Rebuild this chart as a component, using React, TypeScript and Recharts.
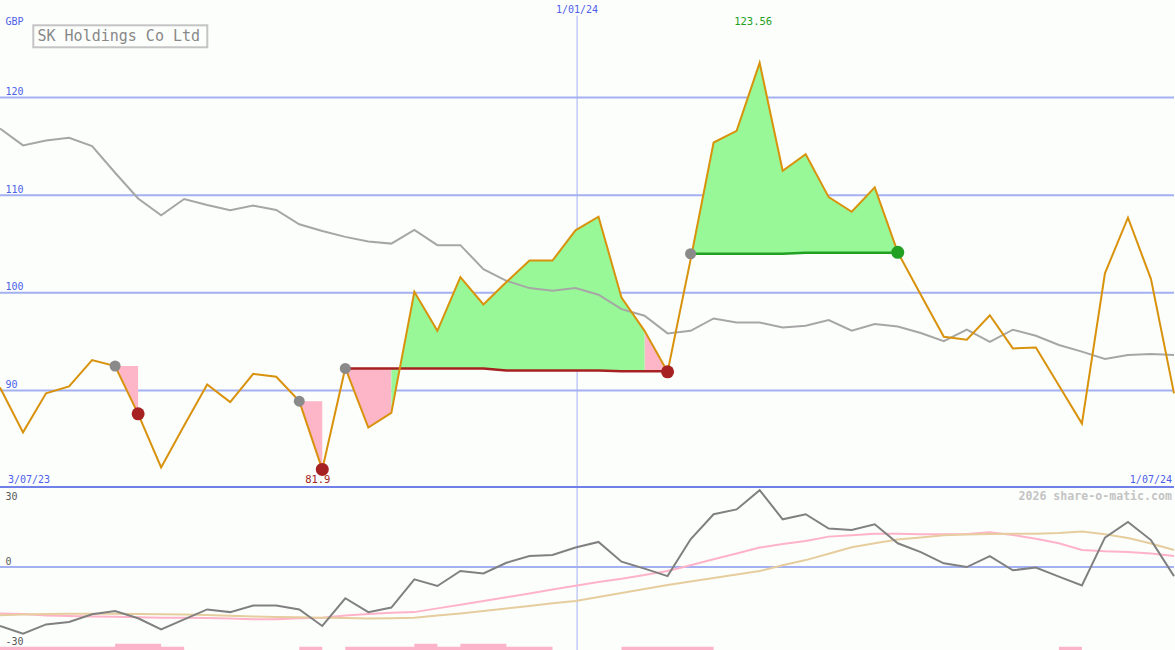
import React from 'react';
import { ComposedChart, Line, Area, XAxis, YAxis, ReferenceLine, ReferenceDot, CartesianGrid } from 'recharts';

const FONT = '"DejaVu Sans Mono", "Liberation Mono", monospace';
const BG = '#fcfefc';
const GRID = '#a3b0f2';
const AXIS = '#6f80e8';
const BLUE_TEXT = '#4d60ea';
const ORANGE = '#d8920c';
const PINK_FILL = '#fdb5c8';
const GREEN_FILL = '#98f898';
const LOSS = '#a62222';
const GAIN = '#22a022';

// ---- data (weekly) ----
const price = [
  90.3, 85.7, 89.7, 90.4, 93.1, 92.5, 87.6, 82.1, 86.4, 90.6,
  88.8, 91.7, 91.4, 88.9, 81.9, 92.3, 86.2, 87.7, 100.1, 96.1,
  101.6, 98.8, 101.1, 103.3, 103.3, 106.4, 107.8, 99.5, 96.1, 91.9,
  103.4, 115.4, 116.6, 123.56, 112.5, 114.2, 109.8, 108.3, 110.8, 104.15,
  99.8, 95.5, 95.2, 97.7, 94.3, 94.4, 90.5, 86.6, 102.0, 107.7,
  101.4, 89.7,
];
const avg = [
  116.84, 115.1, 115.61, 115.88, 115.03, 112.3, 109.66, 107.94, 109.61, 109.0,
  108.46, 108.93, 108.49, 107.02, 106.34, 105.73, 105.25, 105.04, 106.44, 104.88,
  104.88, 102.42, 101.23, 100.48, 100.2, 100.48, 99.8, 98.33, 97.65, 95.84,
  96.11, 97.37, 96.96, 96.96, 96.45, 96.63, 97.21, 96.11, 96.8, 96.55,
  95.88, 95.04, 96.22, 94.96, 96.22, 95.6, 94.65, 93.97, 93.22, 93.63,
  93.73, 93.63,
];
const stopLevel: (number | null)[] = [
  null, null, null, null, null, 92.5, 92.5, null, null, null,
  null, null, null, 88.9, 88.9, 92.25, 92.25, 92.25, 92.25, 92.25,
  92.25, 92.25, 92.05, 92.05, 92.05, 92.05, 92.05, 91.95, 91.95, 91.95,
  104.0, 104.0, 104.0, 104.0, 104.0, 104.1, 104.1, 104.1, 104.1, 104.1,
  null, null, null, null, null, null, null, null, null, null,
  null, null,
];
const tradeStart = [5, 13, 15, 30];
const tradeEnd = [6, 14, 29, 39];

const oscillator = [
  -22.1, -25.0, -21.5, -20.6, -17.7, -16.5, -19.2, -23.4, -19.6, -15.9,
  -16.9, -14.4, -14.4, -15.9, -22.1, -11.7, -16.9, -15.2, -4.6, -7.1,
  -1.5, -2.4, 1.6, 4.1, 4.5, 7.3, 9.4, 2.0, -0.6, -3.4,
  10.4, 19.8, 21.6, 28.8, 17.9, 19.8, 14.4, 13.9, 16.0, 8.9,
  5.6, 1.4, 0.0, 4.1, -1.2, -0.2, -3.6, -6.9, 11.0, 16.9,
  10.1, -3.4,
];
const oscFast = [
  -17.4, -17.6, -18.2, -18.4, -18.5, -18.6, -18.8, -19.0, -19.0, -19.1,
  -19.3, -19.6, -19.6, -19.2, -19.0, -18.2, -17.6, -17.1, -16.9, -15.5,
  -14.1, -12.7, -11.3, -9.9, -8.4, -7.0, -5.6, -4.4, -3.0, -1.5,
  0.7, 2.9, 5.1, 7.3, 8.6, 9.8, 11.4, 11.9, 12.5, 12.5,
  12.3, 12.3, 12.4, 13.0, 12.0, 10.6, 8.9, 6.4, 5.9, 5.6,
  5.1, 4.1,
];
const oscSlow = [
  -18.1, -17.8, -17.6, -17.5, -17.5, -17.5, -17.6, -17.7, -17.8, -18.0,
  -18.3, -18.5, -18.7, -18.8, -19.0, -19.1, -19.3, -19.2, -19.0, -18.2,
  -17.4, -16.5, -15.5, -14.6, -13.6, -12.7, -11.2, -9.7, -8.2, -6.7,
  -5.4, -4.1, -2.8, -1.5, 0.7, 2.6, 5.0, 7.4, 8.9, 10.3,
  11.1, 11.9, 12.2, 12.4, 12.5, 12.5, 12.8, 13.3, 12.3, 10.9,
  8.8, 6.4,
];
const volume = [
  1.2, 1.2, 1.2, 1.2, 1.2, 2.3, 2.3, 1.2, 0, 0,
  0, 0, 0, 1.2, 0, 1.2, 1.2, 1.2, 2.3, 1.2,
  2.3, 2.3, 1.2, 1.2, 0, 0, 0, 1.2, 1.2, 1.2,
  1.2, 0, 0, 0, 0, 0, 0, 0, 0, 0,
  0, 0, 0, 0, 0, 0, 1.2, 0, 0, 0,
  0, 0,
];

const mainTicks = [90, 100, 110, 120];
const mainDomain: [number, number] = [80, 130];
const lowerDomain: [number, number] = [-31.1, 30];
const markerLabel = '1/01/24';
const markerIndex = 25.07;
const startLabel = '3/07/23';
const endLabel = '1/07/24';
const title = 'SK Holdings Co Ltd';
const currency = 'GBP';
const credit = '2026 share-o-matic.com';

// ---- derived rows ----
const N = price.length;
const fillKeys = ['p0', 'p1', 'g0', 'g1'];
const mainRows: Record<string, any>[] = price.map((p, i) => {
  const r: Record<string, any> = { i, price: p, avg: avg[i] };
  fillKeys.forEach((k) => (r[k] = null));
  tradeStart.forEach((_, k) => (r[`lvl${k}`] = null));
  return r;
});
const trades = tradeStart.map((s, k) => {
  const e = tradeEnd[k];
  const win = price[e] >= (stopLevel[s] as number);
  return { s, e, win, k };
});
trades.forEach(({ s, e, k }) => {
  const segGreen = (j: number) => price[j] >= (stopLevel[j] as number);
  for (let j = s; j <= e; j++) {
    const lvl = stopLevel[j] as number;
    const range = [lvl, price[j]];
    const prevSeg = j > s ? segGreen(j) : null;
    const nextSeg = j < e ? segGreen(j + 1) : null;
    if (prevSeg === true || nextSeg === true) mainRows[j][`g${k % 2}`] = range;
    if (prevSeg === false || nextSeg === false) mainRows[j][`p${k % 2}`] = range;
    if (e - s > 1) mainRows[j][`lvl${k}`] = lvl;
  }
});
const lowerRows = oscillator.map((v, i) => ({
  i,
  osc: v,
  fast: oscFast[i],
  slow: oscSlow[i],
  vol: lowerDomain[0] + volume[i],
}));
const maxIdx = price.indexOf(Math.max(...price));
const minIdx = price.indexOf(Math.min(...price));

const lineLabel = (text: string, fill: string, dy: number) => (props: any) => {
  const vb = props.viewBox || {};
  return (
    <text x={(vb.x ?? 0) + 5.5} y={(vb.y ?? 0) + dy} fill={fill} fontSize={10} fontFamily={FONT}>
      {text}
    </text>
  );
};
const dotLabel = (text: string, fill: string, dx: number, dy: number) => (props: any) => {
  const vb = props.viewBox || {};
  const cx = (vb.x ?? 0) + (vb.width ?? 0) / 2;
  const cy = (vb.y ?? 0) + (vb.height ?? 0) / 2;
  return (
    <text x={cx + dx} y={cy + dy} fill={fill} fontSize={10.5} fontFamily={FONT} textAnchor="middle">
      {text}
    </text>
  );
};

export default function App() {
  return (
    <div style={{ position: 'absolute', left: 0, top: 0, width: 1175, height: 650, background: BG, overflow: 'hidden' }}>
      {/* backdrop: grid and date marker behind the fills */}
      <div style={{ position: 'absolute', left: 0, top: 0 }}>
        <ComposedChart width={1175} height={488} data={mainRows} margin={{ top: 0, right: 1, bottom: 0, left: 0 }}>
          <XAxis dataKey="i" type="number" domain={[0, N - 1]} hide />
          <YAxis domain={mainDomain} hide allowDataOverflow />
          <CartesianGrid vertical={false} horizontalValues={mainTicks} stroke={GRID} strokeWidth={2} />
          <ReferenceLine
            segment={[{ x: markerIndex, y: 128.4 }, { x: markerIndex, y: mainDomain[0] }]}
            stroke={GRID}
            strokeWidth={1}
          />
          {mainTicks.map((v) => (
            <ReferenceLine key={v} y={v} stroke="none" label={lineLabel(String(v), BLUE_TEXT, -2.5)} />
          ))}
        </ComposedChart>
      </div>
      <div style={{ position: 'absolute', left: 0, top: 0 }}>
        <ComposedChart width={1175} height={488} data={mainRows} margin={{ top: 0, right: 1, bottom: 0, left: 0 }}>
          <XAxis dataKey="i" type="number" domain={[0, N - 1]} hide />
          <YAxis domain={mainDomain} hide allowDataOverflow />
          {fillKeys.map((k) => (
            <Area
              key={k}
              dataKey={k}
              type="linear"
              stroke="none"
              fill={k.startsWith('g') ? GREEN_FILL : PINK_FILL}
              fillOpacity={1}
              connectNulls={false}
              dot={false}
              activeDot={false}
              isAnimationActive={false}
            />
          ))}
          <Line dataKey="avg" type="linear" stroke="#a6a6a6" strokeWidth={2} dot={false} activeDot={false} isAnimationActive={false} />
          {trades
            .filter((t) => t.e - t.s > 1)
            .map((t) => (
              <Line
                key={`lvl${t.k}`}
                dataKey={`lvl${t.k}`}
                type="linear"
                stroke={t.win ? GAIN : LOSS}
                strokeWidth={2.5}
                dot={false}
                activeDot={false}
                connectNulls={false}
                isAnimationActive={false}
              />
            ))}
          {trades.map((t) => (
            <ReferenceDot key={`en${t.k}`} x={t.s} y={stopLevel[t.s] as number} r={5.5} fill="#8a8a8a" stroke="none" />
          ))}
          <Line dataKey="price" type="linear" stroke={ORANGE} strokeWidth={2} dot={false} activeDot={false} isAnimationActive={false} />
          {trades.map((t) => (
            <ReferenceDot key={`ex${t.k}`} x={t.e} y={price[t.e]} r={6.5} fill={t.win ? GAIN : LOSS} stroke="none" />
          ))}
          <ReferenceDot x={maxIdx} y={price[maxIdx]} r={0} fill="none" stroke="none" label={dotLabel(String(price[maxIdx]), GAIN, -6.5, -38)} />
          <ReferenceDot x={minIdx} y={price[minIdx]} r={0} fill="none" stroke="none" label={dotLabel(String(price[minIdx]), LOSS, -4.5, 13.5)} />
        </ComposedChart>
      </div>
      <div style={{ position: 'absolute', left: 0, top: 485 }}>
        <ComposedChart width={1175} height={165} data={lowerRows} margin={{ top: 2, right: 1, bottom: 0, left: 0 }}>
          <XAxis dataKey="i" type="number" domain={[0, N - 1]} hide />
          <YAxis domain={lowerDomain} hide allowDataOverflow />
          <ReferenceLine x={markerIndex} stroke={GRID} strokeWidth={1} />
          <ReferenceLine y={0} stroke={GRID} strokeWidth={2} label={lineLabel('0', '#5a5a5a', -2.5)} />
          <ReferenceLine y={30} stroke={AXIS} strokeWidth={2} label={lineLabel('30', '#5a5a5a', 13)} />
          <ReferenceLine y={-30} stroke="none" label={lineLabel('-30', '#5a5a5a', -2)} />
          <Area
            dataKey="vol"
            type="stepAfter"
            baseValue={lowerDomain[0]}
            stroke="none"
            fill="#fbb4c9"
            fillOpacity={1}
            dot={false}
            activeDot={false}
            isAnimationActive={false}
          />
          <Line dataKey="fast" type="linear" stroke="#ffb3c9" strokeWidth={2} dot={false} activeDot={false} isAnimationActive={false} />
          <Line dataKey="slow" type="linear" stroke="#e6cd9e" strokeWidth={2} dot={false} activeDot={false} isAnimationActive={false} />
          <Line dataKey="osc" type="linear" stroke="#808080" strokeWidth={2} dot={false} activeDot={false} isAnimationActive={false} />
        </ComposedChart>
      </div>
      <svg width={1175} height={650} style={{ position: 'absolute', left: 0, top: 0, pointerEvents: 'none' }}>
        <rect x={33.3} y={25.3} width={174} height={22} fill="none" stroke="#c4c4c4" strokeWidth={2} />
        <text x={37.5} y={40.5} fontSize={15} fill="#888888" fontFamily={FONT}>{title}</text>
        <text x={5.5} y={24.5} fontSize={10} fill={BLUE_TEXT} fontFamily={FONT}>{currency}</text>
        <text x={577} y={13} fontSize={10} fill={BLUE_TEXT} fontFamily={FONT} textAnchor="middle">{markerLabel}</text>
        <text x={8} y={482.5} fontSize={10} fill={BLUE_TEXT} fontFamily={FONT}>{startLabel}</text>
        <text x={1172} y={482.5} fontSize={10} fill={BLUE_TEXT} fontFamily={FONT} textAnchor="end">{endLabel}</text>
        <text x={1172} y={500} fontSize={11.6} fontWeight="bold" fill="#c4c4c4" fontFamily={FONT} textAnchor="end">{credit}</text>
      </svg>
    </div>
  );
}
